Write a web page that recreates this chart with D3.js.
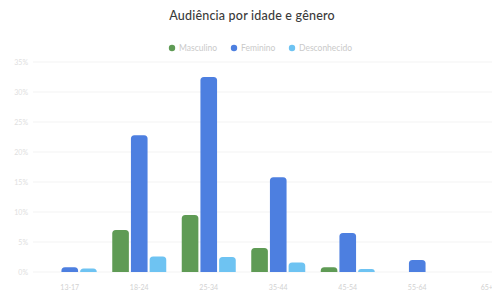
<!DOCTYPE html>
<html><head><meta charset="utf-8">
<script src="https://cdn.jsdelivr.net/npm/d3@7"></script>
<style>body{margin:0;background:#fff;}svg{display:block;font-family:Lato,"Open Sans",sans-serif;}</style>
</head><body><svg id="c" width="492" height="297"></svg>
<script>
const categories = ["13-17","18-24","25-34","35-44","45-54","55-64","65+"];
const seriesNames = ["Masculino","Feminino","Desconhecido"];
const masculino = [0, 7.0, 9.5, 4.0, 0.8, 0, 0];
const feminino = [0.8, 22.8, 32.5, 15.8, 6.5, 2.0, 0];
const desconhecido = [0.6, 2.6, 2.5, 1.6, 0.5, 0, 0];
const yTicks = [0,5,10,15,20,25,30,35];
const colors = ["#5f9b55","#4d7fe0","#6ec3f2"];

const svg = d3.select("#c");
const values = [masculino, feminino, desconhecido];
const x0 = d3.scaleBand().domain(categories).range([35, 521.5]).padding(0);
const x1 = d3.scaleBand().domain(seriesNames).range([0, 54]).paddingInner(0.11);
const y = d3.scaleLinear().domain([0, 35]).range([272, 62]);

svg.append("g").selectAll("line").data(yTicks).join("line")
  .attr("x1", 33).attr("x2", 492)
  .attr("y1", d => y(d)).attr("y2", d => y(d))
  .attr("stroke", "#f3f3f3").attr("stroke-width", 1);

svg.append("g").selectAll("text").data(yTicks).join("text")
  .attr("x", 28).attr("y", d => y(d) + 2.5)
  .attr("text-anchor", "end").attr("font-size", 7).attr("fill", "#e0e0e0")
  .text(d => d + "%");

const groups = svg.append("g").selectAll("g").data(categories).join("g")
  .attr("transform", d => `translate(${x0(d) + x0.bandwidth()/2 - 27},0)`);
groups.selectAll("path").data((c, i) => seriesNames.map((s, j) => ({s, j, v: values[j][i]})))
  .join("path")
  .attr("fill", d => colors[d.j])
  .attr("d", d => {
    const bx = x1(d.s), w = x1.bandwidth(), top = y(d.v), bot = y(0);
    const h = bot - top;
    if (h <= 0) return "";
    const r = Math.min(3.5, h, w/2);
    return `M${bx},${bot}V${top + r}Q${bx},${top} ${bx + r},${top}H${bx + w - r}Q${bx + w},${top} ${bx + w},${top + r}V${bot}Z`;
  });

svg.append("g").selectAll("text").data(categories).join("text")
  .attr("x", d => x0(d) + x0.bandwidth()/2).attr("y", 290)
  .attr("text-anchor", "middle").attr("font-size", 7).attr("fill", "#d2d2d2")
  .text(d => d);

svg.append("text").attr("x", 252).attr("y", 20).attr("text-anchor", "middle")
  .attr("font-size", 12.5).attr("font-weight", 500).attr("letter-spacing", 0.2).attr("fill", "#3a3a3a").text("Audiência por idade e gênero");

const legX = [172, 234, 292];
const leg = svg.append("g").selectAll("g").data(seriesNames).join("g")
  .attr("transform", (d, i) => `translate(${legX[i]},48)`);
leg.append("circle").attr("r", 3.2).attr("fill", (d, i) => colors[i]);
leg.append("text").attr("x", 7).attr("y", 3).attr("font-size", 8.5).attr("fill", "#cacaca").text(d => d);
</script></body></html>
